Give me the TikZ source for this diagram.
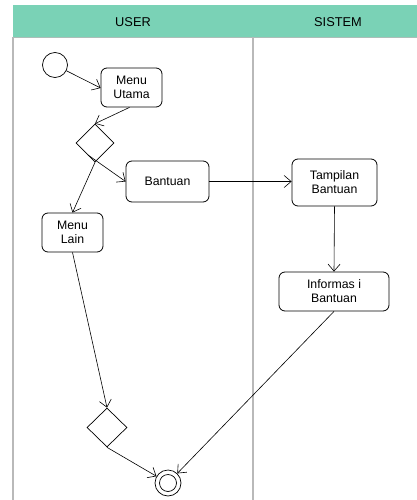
\documentclass[tikz,border=0pt]{standalone}
\usepackage{fontspec}
\setmainfont{Liberation Sans}
\usetikzlibrary{arrows.meta,shapes.geometric}
\definecolor{laneHead}{RGB}{122,210,182}
\definecolor{laneLine}{RGB}{185,185,185}
\begin{document}
\begin{tikzpicture}[x=1pt,y=-1pt,
  font=\fontsize{12.3}{14}\selectfont,
  act/.style={draw=black,line width=0.8pt,rounded corners=6pt,align=center,
    inner sep=0pt,fill=white},
  decision/.style={draw=black,line width=0.7pt,diamond,inner sep=0pt,
    minimum width=38pt,minimum height=38pt},
  flow/.style={draw=black,line width=0.6pt,-{Straight Barb[length=7pt,width=12pt,line width=0.6pt]}},
  lane/.style={draw=laneLine,line width=1.2pt}]
\useasboundingbox (0,0) rectangle (417,500);
\fill[white] (0,0) rectangle (417,500);

% swimlane header and separators
\fill[laneHead] (13,5) rectangle (417,37);
\draw[laneLine!80!laneHead,line width=0.6pt] (13,37) -- (417,37);
\node[font=\fontsize{12.8}{14}\selectfont] (userLane) at (133,22) {USER};
\node[font=\fontsize{12.8}{14}\selectfont] (sysLane) at (338,22) {SISTEM};
\draw[lane] (13,37) -- (13,500);
\draw[lane] (253,37) -- (253,500);

% start and end
\node[draw=black,line width=0.7pt,circle,minimum size=25pt,inner sep=0pt] (start) at (55,65) {};
\node[draw=black,line width=0.7pt,circle,minimum size=26pt,inner sep=0pt] (stop) at (168,483) {};
\node[draw=black,line width=0.7pt,circle,minimum size=17pt,inner sep=0pt] (stopIn) at (168,483) {};

% activities
\node[act,minimum width=61pt,minimum height=39pt] (utama) at (131.5,87.5) {Menu\\Utama};
\node[act,minimum width=83pt,minimum height=41pt] (bantuan) at (167.5,181.5) {Bantuan};
\node[act,minimum width=61pt,minimum height=39pt] (lain) at (72.5,232.5) {Menu\\Lain};
\node[act,minimum width=85pt,minimum height=47pt] (tampil) at (334.5,182.5) {Tampilan\\Bantuan};
\node[act,minimum width=110pt,minimum height=39pt] (info) at (334,291.5) {Informas i\\Bantuan};

% decisions
\node[decision] (d1) at (95,143) {};
\node[decision,minimum width=40pt,minimum height=39pt] (d2) at (107,427.5) {};

% flows
\draw[flow] (start) -- (utama.west |- 0,88);
\draw[flow] (utama.south) ++(-2,0) coordinate (uOut) -- (d1.north);
\draw[flow] (d1.center) ++(-7,12) coordinate (d1a) -- (bantuan.west);
\draw[flow] (d1.south) -- (lain.north);
\draw[flow] (bantuan.east) -- (tampil.west |- bantuan.east);
\draw[flow] (tampil.south) -- (info.north);
\draw[flow] (lain.south) -- (d2.north);
\draw[flow] (d2.south) -- (stop);
\draw[flow] (info.south) -- (stop);
\end{tikzpicture}
\end{document}
